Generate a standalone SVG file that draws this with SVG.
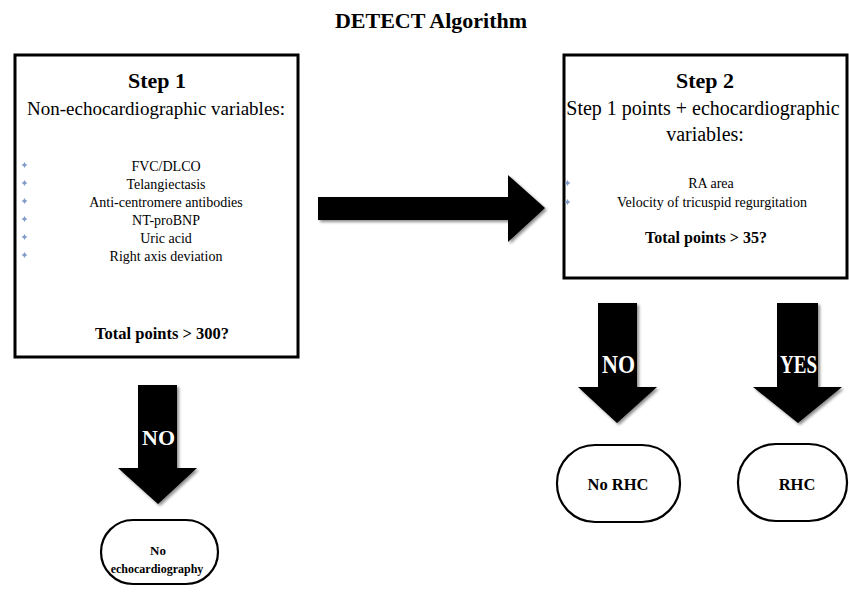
<svg xmlns="http://www.w3.org/2000/svg" width="849" height="594" viewBox="0 0 849 594">
<style>
text{font-family:"Liberation Serif","Times New Roman",serif;fill:#000}
.b{font-weight:bold}
.box{fill:#fff;stroke:#000;stroke-width:3}
.pill{fill:#fff;stroke:#000;stroke-width:2.2}
.arr{fill:#000;filter:url(#sh)}
.lbl{font-weight:bold;fill:#fff;stroke:#000;stroke-width:0.8;paint-order:stroke}
.bul{fill:#7f9cc8}
.it{font-size:14px}
</style>
<defs>
<filter id="sh" x="-20%" y="-20%" width="140%" height="140%">
<feGaussianBlur in="SourceAlpha" stdDeviation="1.5"/>
<feOffset dx="2" dy="2" result="o"/>
<feComponentTransfer><feFuncA type="linear" slope="0.45"/></feComponentTransfer>
<feMerge><feMergeNode/><feMergeNode in="SourceGraphic"/></feMerge>
</filter>
<path id="star" d="M0,-3 L1.1,-1.1 L3,0 L1.1,1.1 L0,3 L-1.1,1.1 L-3,0 L-1.1,-1.1 Z"/>
</defs>
<rect width="849" height="594" fill="#fff"/>
<text class="b" x="431" y="28" font-size="22" text-anchor="middle">DETECT Algorithm</text>

<g id="step1">
<rect class="box" x="15" y="55" width="283" height="302"/>
<text class="b" x="157" y="88" font-size="22" text-anchor="middle">Step 1</text>
<text x="156" y="115" font-size="19" text-anchor="middle">Non-echocardiographic variables:</text>
<use class="bul" href="#star" x="24.5" y="165"/>
<use class="bul" href="#star" x="24.5" y="183"/>
<use class="bul" href="#star" x="24.5" y="201"/>
<use class="bul" href="#star" x="24.5" y="219"/>
<use class="bul" href="#star" x="24.5" y="237"/>
<use class="bul" href="#star" x="24.5" y="255"/>
<text class="it" x="166" y="171" text-anchor="middle">FVC/DLCO</text>
<text class="it" x="166" y="189" text-anchor="middle">Telangiectasis</text>
<text class="it" x="166" y="207" text-anchor="middle">Anti-centromere antibodies</text>
<text class="it" x="166" y="225" text-anchor="middle">NT-proBNP</text>
<text class="it" x="166" y="243" text-anchor="middle">Uric acid</text>
<text class="it" x="166" y="261" text-anchor="middle">Right axis deviation</text>
<text class="b" x="162" y="339" font-size="16.5" text-anchor="middle">Total points &gt; 300?</text>
</g>

<g id="step2">
<rect class="box" x="564" y="55" width="283" height="223"/>
<text class="b" x="705" y="88" font-size="22" text-anchor="middle">Step 2</text>
<text x="703" y="115" font-size="20" text-anchor="middle">Step 1 points + echocardiographic</text>
<text x="705" y="141" font-size="20" text-anchor="middle">variables:</text>
<use class="bul" href="#star" x="567.5" y="183"/>
<use class="bul" href="#star" x="567.5" y="202"/>
<text class="it" x="711" y="188" text-anchor="middle">RA area</text>
<text class="it" x="712" y="207" text-anchor="middle">Velocity of tricuspid regurgitation</text>
<text class="b" x="706" y="243" font-size="16" text-anchor="middle">Total points &gt; 35?</text>
</g>

<g id="no-echo">
<rect class="pill" x="101" y="520" width="117" height="64" rx="32"/>
<text class="b" x="158" y="555" font-size="13" text-anchor="middle">No</text>
<text class="b" x="157" y="573" font-size="12" text-anchor="middle">echocardiography</text>
</g>

<g id="no-rhc">
<rect class="pill" x="557" y="445" width="123" height="77" rx="38"/>
<text class="b" x="618" y="490" font-size="16.5" text-anchor="middle">No RHC</text>
</g>

<g id="rhc">
<rect class="pill" x="738" y="444" width="109" height="77" rx="38"/>
<text class="b" x="797" y="490" font-size="16.5" text-anchor="middle">RHC</text>
</g>

<g id="connectors">
<polygon class="arr" points="318,197 508,197 508,175 545,208 508,242 508,220 318,220"/>
<polygon class="arr" points="138,385 177,385 177,468 197,468 158,504 118,468 138,468"/>
<polygon class="arr" points="598,303 637,303 637,387 657,387 617,423 578,387 598,387"/>
<polygon class="arr" points="777,303 818,303 818,387 842,387 798,423 753,387 777,387"/>
<text class="lbl" x="142" y="445" font-size="22" textLength="33" lengthAdjust="spacingAndGlyphs">NO</text>
<text class="lbl" x="602" y="373" font-size="26" textLength="33" lengthAdjust="spacingAndGlyphs">NO</text>
<text class="lbl" x="780" y="373" font-size="26" textLength="37" lengthAdjust="spacingAndGlyphs">YES</text>
</g>
</svg>
